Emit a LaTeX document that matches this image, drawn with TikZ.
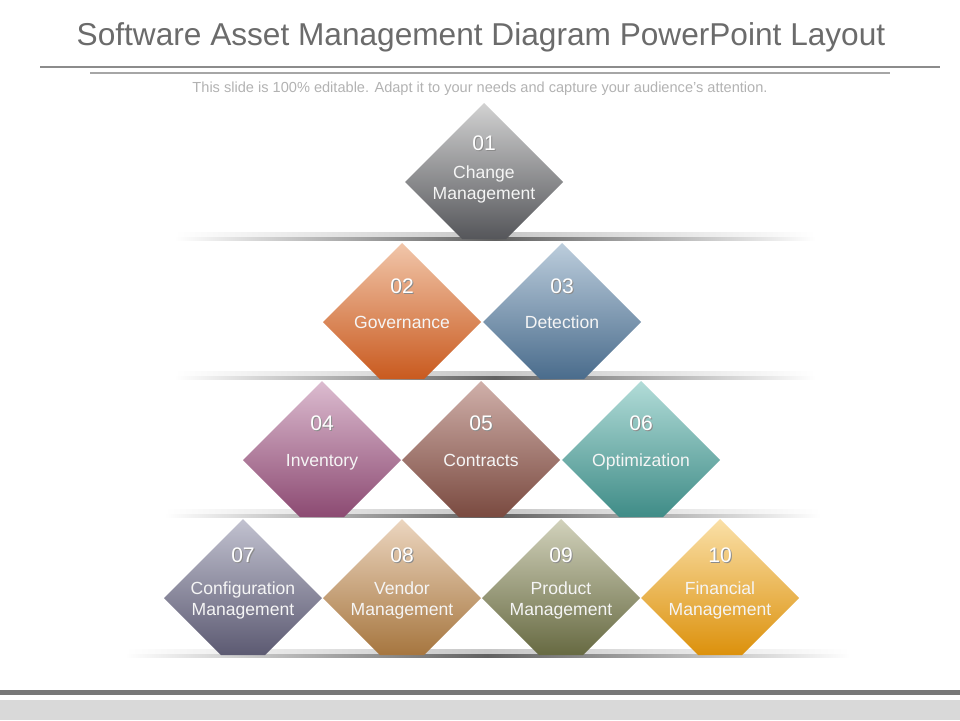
\documentclass[tikz,border=0pt]{standalone}
\usepackage{fontspec}
\setmainfont{Liberation Sans}
\usepackage{tikz}
\usetikzlibrary{positioning,calc}

% diamond colours (top / bottom of the shading)
\definecolor{c01t}{HTML}{D2D2D2}\definecolor{c01b}{HTML}{55565A}
\definecolor{c02t}{HTML}{F1C6AA}\definecolor{c02b}{HTML}{C95A1F}
\definecolor{c03t}{HTML}{BCCDDC}\definecolor{c03b}{HTML}{4A6C8C}
\definecolor{c04t}{HTML}{DCBCD0}\definecolor{c04b}{HTML}{8C4A72}
\definecolor{c05t}{HTML}{D0B0AA}\definecolor{c05b}{HTML}{7A4A40}
\definecolor{c06t}{HTML}{B2DCD8}\definecolor{c06b}{HTML}{3F8C87}
\definecolor{c07t}{HTML}{C2C2D0}\definecolor{c07b}{HTML}{5C5A72}
\definecolor{c08t}{HTML}{ECD6C0}\definecolor{c08b}{HTML}{A6763F}
\definecolor{c09t}{HTML}{D2D2BC}\definecolor{c09b}{HTML}{676A42}
\definecolor{c10t}{HTML}{FAE0A8}\definecolor{c10b}{HTML}{DC910C}

\begin{document}
\begin{tikzpicture}[
    x=0.02cm, y=-0.02cm,
    title/.style={font=\fontsize{18}{22}\selectfont, text=black!58},
    subtitle/.style={font=\fontsize{8.3}{10}\selectfont, text=black!30},
    num/.style={font=\fontsize{12}{14}\selectfont, text=white},
    numshadow/.style={font=\fontsize{12}{14}\selectfont, text=black!45},
    label/.style={font=\fontsize{10}{12}\selectfont, text=white!96!black, align=center, inner sep=0pt,
        execute at begin node=\vphantom{g}}
]
    \useasboundingbox (0,0) rectangle (960,720);

    % Header
    \node[title] (head) at (481,37) {Software Asset Management Diagram PowerPoint Layout};
    \draw[black!45, line width=0.9pt] (40,67) -- (940,67);
    \draw[black!35, line width=0.7pt] (90,73) -- (890,73);
    \node[subtitle] (sub) at (480,89) {This slide is 100\% editable. Adapt it to your needs and capture your audience's attention.};

    % Shelves
    \foreach \y/\xa/\xb in {240/175/815, 379/175/815, 517/165/820, 657/125/850} {
        \shade[left color=white, right color=white, middle color=black!22] (\xa,\y-8) rectangle (\xb,\y);
        \shade[left color=white, right color=white, middle color=black!62] (\xa,\y-2.5) rectangle (\xb,\y);
    }

    % Diamonds
    \foreach \i/\cx/\cy/\ny/\lab in {
        01/484/182/-39/{Change\\Management},
        02/402/322/-36/Governance,
        03/562/322/-36/Detection,
        04/322/460/-37/Inventory,
        05/481/460/-37/Contracts,
        06/641/460/-37/Optimization,
        07/243/598/-43/{Configuration\\Management},
        08/402/598/-43/{Vendor\\Management},
        09/561/598/-43/{Product\\Management},
        10/720/598/-43/{Financial\\Management}} {
        \shade[top color=c\i t, bottom color=c\i b]
            (\cx,\cy-79) -- (\cx+79,\cy) -- (\cx+22,\cy+57) -- (\cx-22,\cy+57) -- (\cx-79,\cy) -- cycle;
        \node[numshadow] (s\i) at (\cx+1.2,\cy+\ny+1.5) {\i};
        \node[num] (n\i) at (\cx,\cy+\ny) {\i};
        \node[label] (l\i) at (\cx,\cy+2) {\lab};
    }

    % Footer
    \fill[black!53] (0,690) rectangle (960,695);
    \fill[black!15] (0,700) rectangle (960,720);
\end{tikzpicture}
\end{document}
